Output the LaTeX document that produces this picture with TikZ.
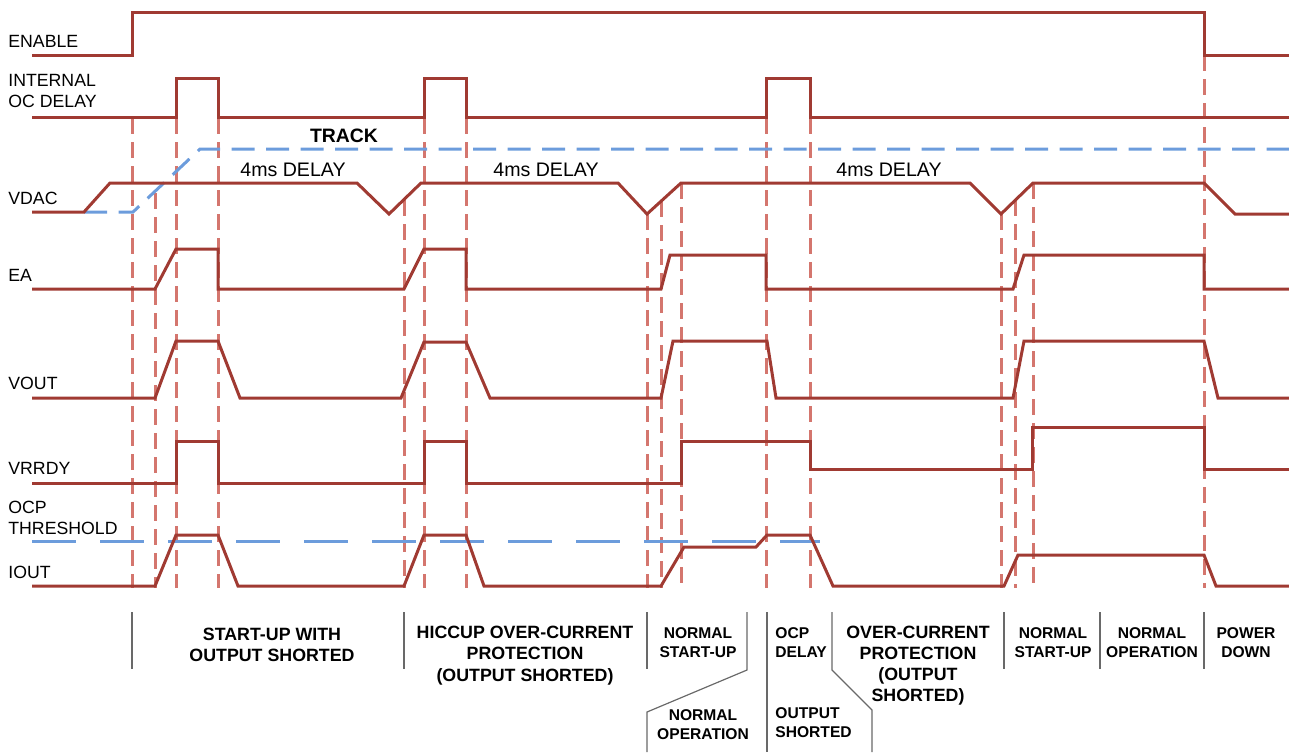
\documentclass[tikz,border=0pt]{standalone}
\usepackage{fontspec}
\setmainfont{Liberation Sans}
\usepackage{xcolor}
\usepackage{tikz}
\usetikzlibrary{positioning}
\definecolor{sigred}{RGB}{160,58,50}
\definecolor{guidered}{RGB}{212,118,110}
\definecolor{refblue}{RGB}{108,156,220}
\definecolor{sepgray}{RGB}{105,105,105}

\begin{document}
\begin{tikzpicture}[
  x=0.5pt,y=-0.5pt,
  every node/.style={inner sep=0pt},
  sig/.style={draw=sigred,line width=1.5pt},
  guide/.style={draw=guidered,line width=1.5pt,dash pattern=on 8pt off 4pt},
  trk/.style={draw=refblue,line width=1.5pt,dash pattern=on 11.5pt off 5.75pt},
  ocp/.style={draw=refblue,line width=1.5pt,dash pattern=on 22pt off 12pt},
  sepline/.style={draw=sepgray,line width=0.6pt},
  lbl/.style={anchor=west,align=left,font=\fontsize{8.85}{10.5}\selectfont},
  dly/.style={font=\fontsize{9.8}{11}\selectfont},
  phaselbl/.style={align=center,font=\bfseries\fontsize{8.9}{10.6}\selectfont},
  phs/.style={align=center,font=\bfseries\fontsize{7.8}{9.5}\selectfont}
]
\useasboundingbox (0,0) rectangle (1289,752);

%% event markers
\foreach \x/\t in {132/118,155/193,176/118,218/118,404/200,424/118,466/118,
                   647/214,661/201,681/183,766/118,810/118,1001/214,1015/200,
                   1033/183,1204/55}
  \draw[guide] (\x,\t) -- (\x,588);

%% signal names
\node[lbl] (lEnable) at (8,41)    {ENABLE};
\node[lbl] (lOcd)    at (8,90.5)  {INTERNAL\\OC DELAY};
\node[lbl] (lVdac)   at (8,198)   {VDAC};
\node[lbl] (lEa)     at (8,275)   {EA};
\node[lbl] (lVout)   at (8,383)   {VOUT};
\node[lbl] (lVrrdy)  at (8,468)   {VRRDY};
\node[lbl] (lOcp)    at (8,517.5) {OCP\\THRESHOLD};
\node[lbl] (lIout)   at (8,572)   {IOUT};

%% reference levels
\draw[trk] (84,212) -- (133,212) -- (200,149) -- (1289,149);
\draw[ocp] (32,541) -- (820,541);
\node[font=\bfseries\fontsize{9.7}{11}\selectfont] (track) at (344,136) {TRACK};
\node[dly] (d1) at (293,170) {4ms DELAY};
\node[dly] (d2) at (546,170) {4ms DELAY};
\node[dly] (d3) at (889,170) {4ms DELAY};

%% waveforms
\draw[sig] (32,55) -- (132,55) -- (132,12) -- (1204,12) -- (1204,55) -- (1289,55);
\draw[sig] (32,117) -| (176,78) -| (218,117) -| (424,78) -| (466,117)
           -| (766,78) -| (810,117) -- (1289,117);
\draw[sig] (32,212) -- (84,212) -- (110,183) -- (357,183) -- (389,214)
           -- (421,183) -- (618,183) -- (647,214) -- (681,183) -- (970,183)
           -- (1001,214) -- (1033,183) -- (1204,183) -- (1235,214) -- (1289,214);
\draw[sig] (32,289) -- (155,289) -- (176,249) -- (218,249) -- (218,289)
           -- (404,289) -- (424,249) -- (466,249) -- (466,289) -- (661,289)
           -- (670,255) -- (766,255) -- (766,289) -- (1013,289) -- (1024,255)
           -- (1204,255) -- (1204,289) -- (1289,289);
\draw[sig] (32,398) -- (155,398) -- (176,341) -- (218,341) -- (240,398)
           -- (401,398) -- (424,342) -- (466,342) -- (490,398) -- (661,398)
           -- (673,341) -- (767,341) -- (776,398) -- (1013,398) -- (1024,341)
           -- (1204,341) -- (1218,398) -- (1289,398);
\draw[sig] (32,483) -| (176,441) -| (218,483) -| (424,441) -| (466,483)
           -| (681,441) -| (810,469) -| (1032,427) -| (1204,469) -- (1289,469);
\draw[sig] (32,586) -- (155,586) -- (176,535) -- (218,535) -- (238,586)
           -- (404,586) -- (424,535) -- (466,535) -- (484,586) -- (661,586)
           -- (684,547) -- (756,547) -- (767,535) -- (810,535) -- (833,586)
           -- (1004,586) -- (1018,555) -- (1204,555) -- (1216,586) -- (1289,586);

%% operating phases
\draw[sepline] (132,612) -- (132,669);
\draw[sepline] (404,612) -- (404,669);
\draw[sepline] (647,612) -- (647,669);
\draw[sepline] (747,612) -- (747,670) -- (647,712) -- (647,752);
\draw[sepline] (767,612) -- (767,752);
\draw[sepline] (832,612) -- (832,670) -- (872,710) -- (872,752);
\draw[sepline] (1004,612) -- (1004,669);
\draw[sepline] (1100,612) -- (1100,669);
\draw[sepline] (1204,612) -- (1204,669);

\node[phaselbl] (pStart)  at (272,644.5) {START-UP WITH\\OUTPUT SHORTED};
\node[phaselbl] (pHiccup) at (525,655.5) {HICCUP OVER-CURRENT\\PROTECTION\\(OUTPUT SHORTED)};
\node[phs] (pNsu)   at (698,642.5)  {NORMAL\\START-UP};
\node[phs] (pNop)   at (703,724.5)  {NORMAL\\OPERATION};
\node[phs,anchor=west,align=left] (pOcpd)  at (775,642.5) {OCP\\DELAY};
\node[phs,anchor=west,align=left] (pShort) at (775,722.5) {OUTPUT\\SHORTED};
\node[phaselbl] (pOcp)    at (918,665.5) {OVER-CURRENT\\PROTECTION\\(OUTPUT\\SHORTED)};
\node[phs] (pNsu2)  at (1053,642.5) {NORMAL\\START-UP};
\node[phs] (pNop2)  at (1152,642.5) {NORMAL\\OPERATION};
\node[phs] (pPdown) at (1246,642.5) {POWER\\DOWN};

\end{tikzpicture}
\end{document}
